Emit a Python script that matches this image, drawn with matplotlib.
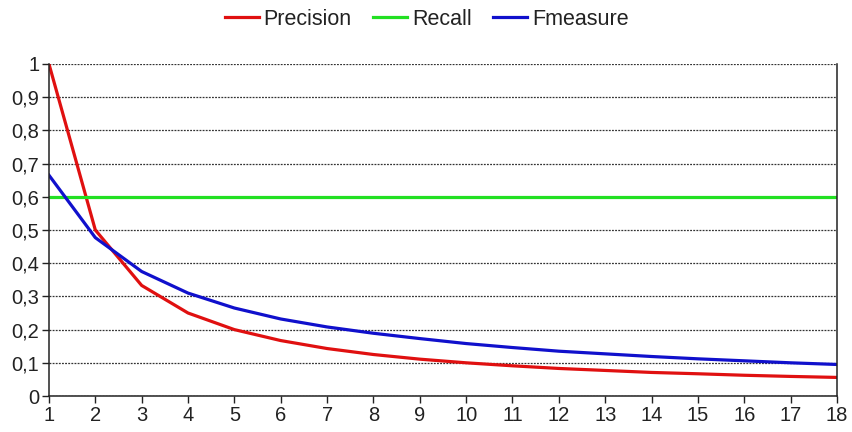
import matplotlib.pyplot as plt

plt.rcParams['font.family'] = ['Liberation Sans', 'DejaVu Sans']

k = list(range(1, 19))
precision = [1.0, 0.5, 0.333, 0.25, 0.2, 0.167, 0.143, 0.125, 0.111, 0.1,
             0.091, 0.083, 0.077, 0.071, 0.067, 0.0625, 0.059, 0.056]
recall = [0.6] * 18
fmeasure = [0.665, 0.477, 0.375, 0.31, 0.265, 0.232, 0.208, 0.189, 0.173, 0.158,
            0.146, 0.135, 0.127, 0.119, 0.112, 0.106, 0.1, 0.095]

yticks = [i / 10 for i in range(11)]
ylabels = ['0', '0,1', '0,2', '0,3', '0,4', '0,5', '0,6', '0,7', '0,8', '0,9', '1']

fig = plt.figure(figsize=(8.53, 4.32), dpi=100)
ax = fig.add_axes([0.0574, 0.0833, 0.9238, 0.7686])

ax.plot(k, precision, color='#e01010', lw=2.3, label='Precision')
ax.plot(k, recall, color='#22e022', lw=2.3, label='Recall')
ax.plot(k, fmeasure, color='#1010cc', lw=2.3, label='Fmeasure')

ax.set_xlim(1, 18)
ax.set_ylim(0, 1)
ax.set_xticks(k)
ax.set_yticks(yticks)
ax.set_yticklabels(ylabels)
ax.tick_params(labelsize=14.5, length=5, width=1, colors='#222222', pad=2)
ax.yaxis.grid(True, linestyle=(0, (1.5, 1)), color='#333333', lw=0.9)
ax.set_axisbelow(True)
ax.spines['top'].set_visible(False)
for s in ['left', 'bottom', 'right']:
    ax.spines[s].set_color('#222222')
    ax.spines[s].set_linewidth(1.1)

fig.legend(loc='upper center', bbox_to_anchor=(0.5, 1.025), ncol=3, frameon=False,
           fontsize=15.5, handlelength=1.6, handletextpad=0.2, columnspacing=1.0,
           labelcolor='#222222')

fig.savefig('out.png', dpi=100)
